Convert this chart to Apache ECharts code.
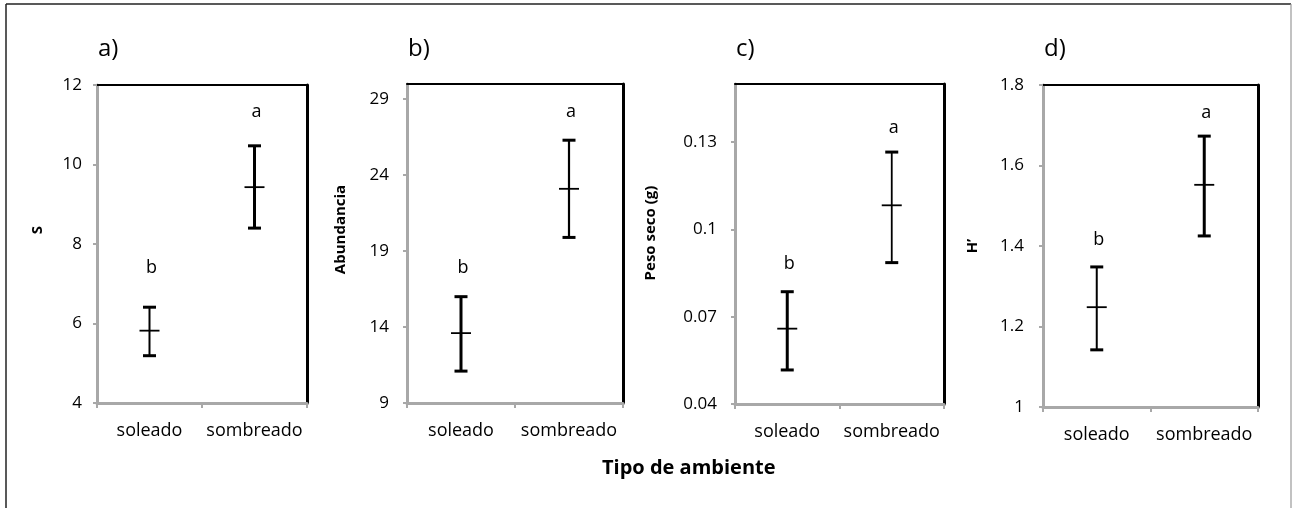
<!DOCTYPE html>
<html>
<head>
<meta charset="utf-8">
<script src="https://cdn.jsdelivr.net/npm/echarts@6/dist/echarts.min.js"></script>
<style>
  html, body { margin: 0; padding: 0; background: #fff; }
  #chart { width: 1293px; height: 508px; }
</style>
</head>
<body>
<div id="chart"></div>
<script>
// categorias (eje x)
const categories = ['soleado', 'sombreado'];

// a) riqueza S
const sLow = [5.19, 8.40];
const sMean = [5.82, 9.43];
const sHigh = [6.41, 10.47];
const sLetterY = [7.4, 11.32];

// b) abundancia
const abLow = [11.1, 19.9];
const abMean = [13.6, 23.1];
const abHigh = [16.0, 26.3];
const abLetterY = [17.9, 28.16];
const abTicks = [9, 14, 19, 24, 29];

// c) peso seco (g)
const psLow = [0.0517, 0.0886];
const psMean = [0.0659, 0.1083];
const psHigh = [0.0786, 0.1266];
const psLetterY = [0.0883, 0.1348];
const psTicks = [0.04, 0.07, 0.1, 0.13];

// d) diversidad H'
const hLow = [1.142, 1.425];
const hMean = [1.248, 1.552];
const hHigh = [1.348, 1.673];
const hLetterY = [1.415, 1.730];

// letras de significancia
const letters = ['b', 'a'];

const chart = echarts.init(document.getElementById('chart'));
const FONT = '"Open Sans", "Noto Sans", sans-serif';
const GRAY = '#a8a8a8';

const panels = [
  { tag: 'a)', name: 'S', low: sLow, mean: sMean, high: sHigh, letterY: sLetterY,
    min: 4, max: 12, interval: 2, ticks: null, labelMargin: 15, nameShift: 28,
    grid: { left: 97, top: 85, width: 210, height: 318 }, nameGap: 52, widths: [2, 3] },
  { tag: 'b)', name: 'Abundancia', low: abLow, mean: abMean, high: abHigh, letterY: abLetterY,
    min: 9, max: 30, interval: null, ticks: abTicks, labelMargin: 18, nameShift: 28,
    grid: { left: 407, top: 84, width: 216, height: 319 }, nameGap: 59, widths: [3, 2.2] },
  { tag: 'c)', name: 'Peso seco (g)', low: psLow, mean: psMean, high: psHigh, letterY: psLetterY,
    min: 0.04, max: 0.15, interval: null, ticks: psTicks, labelMargin: 18, nameShift: 22,
    grid: { left: 735, top: 84, width: 209, height: 320 }, nameGap: 77, widths: [3, 1.8] },
  { tag: 'd)', name: 'H\u2019', low: hLow, mean: hMean, high: hHigh, letterY: hLetterY,
    min: 1, max: 1.8, interval: 0.2, ticks: null, labelMargin: 19, nameShift: 0,
    grid: { left: 1043, top: 85, width: 215, height: 322 }, nameGap: 63, widths: [2, 3] }
];

function errorBarItem(widths) {
  return function (params, api) {
    const x = api.value(0);
    const lo = api.coord([x, api.value(1)]);
    const mid = api.coord([x, api.value(2)]);
    const hi = api.coord([x, api.value(3)]);
    const lw = widths[params.dataIndex];
    const st = { stroke: '#000', lineWidth: lw };
    return {
      type: 'group',
      children: [
        { type: 'line', shape: { x1: hi[0], y1: hi[1], x2: lo[0], y2: lo[1] }, style: st },
        { type: 'line', shape: { x1: hi[0] - 6.5, y1: hi[1], x2: hi[0] + 6.5, y2: hi[1] }, style: { stroke: '#000', lineWidth: 3 } },
        { type: 'line', shape: { x1: lo[0] - 6.5, y1: lo[1], x2: lo[0] + 6.5, y2: lo[1] }, style: { stroke: '#000', lineWidth: 3 } },
        { type: 'line', shape: { x1: mid[0] - 10, y1: mid[1], x2: mid[0] + 10, y2: mid[1] }, style: { stroke: '#000', lineWidth: 1.8 } }
      ]
    };
  };
}

function letterItem(params, api) {
  const p = api.coord([api.value(0), api.value(1)]);
  return {
    type: 'text',
    style: {
      x: p[0] + 2, y: p[1], text: letters[params.dataIndex],
      font: '18px ' + FONT, fill: '#000', align: 'center', verticalAlign: 'middle'
    }
  };
}

const grid = [], xAxis = [], yAxis = [], series = [], title = [];

panels.forEach((p, i) => {
  grid.push(Object.assign({ containLabel: false }, p.grid));

  // eje x inferior (gris)
  xAxis.push({
    type: 'category', gridIndex: i, data: categories, boundaryGap: true,
    axisLine: { lineStyle: { color: GRAY, width: 3 } },
    axisTick: { show: true, length: 5, lineStyle: { color: GRAY, width: 2 } },
    axisLabel: { color: '#000', fontSize: 18, fontFamily: FONT, margin: 19, interval: 0, hideOverlap: false }
  });
  // borde superior (negro)
  xAxis.push({
    type: 'category', gridIndex: i, data: categories, position: 'top',
    axisLine: { lineStyle: { color: '#000', width: 2 } },
    axisTick: { show: false }, axisLabel: { show: false }
  });

  const yLabel = { color: '#000', fontSize: 17, fontFamily: FONT, margin: p.labelMargin };
  const yTick = { show: true, length: 4, lineStyle: { color: GRAY, width: 2 } };
  if (p.ticks) {
    yLabel.customValues = p.ticks;
    yTick.customValues = p.ticks;
  }
  const y = {
    type: 'value', gridIndex: i, min: p.min, max: p.max,
    name: p.name, nameLocation: 'middle', nameRotate: 90, nameGap: p.nameGap,
    nameTextStyle: { fontSize: 15, fontWeight: 'bold', fontFamily: FONT, color: '#000',
      padding: [0, 0, 0, p.nameShift] },
    splitLine: { show: false },
    axisLine: { show: true, lineStyle: { color: GRAY, width: 3 } },
    axisTick: yTick, axisLabel: yLabel
  };
  if (p.interval) y.interval = p.interval;
  yAxis.push(y);
  // borde derecho (negro)
  yAxis.push({
    type: 'value', gridIndex: i, position: 'right', min: p.min, max: p.max,
    splitLine: { show: false },
    axisLine: { show: true, lineStyle: { color: '#000', width: 3 } },
    axisTick: { show: false }, axisLabel: { show: false }
  });

  series.push({
    type: 'custom', xAxisIndex: i * 2, yAxisIndex: i * 2,
    renderItem: errorBarItem(p.widths),
    encode: { x: 0, y: [1, 2, 3] },
    data: categories.map((c, k) => [k, p.low[k], p.mean[k], p.high[k]]),
    z: 5
  });
  series.push({
    type: 'custom', xAxisIndex: i * 2, yAxisIndex: i * 2,
    renderItem: letterItem,
    encode: { x: 0, y: 1 },
    data: categories.map((c, k) => [k, p.letterY[k]]),
    z: 5
  });

  title.push({
    text: p.tag, left: p.grid.left + 1, top: 37, padding: 0,
    textStyle: { fontSize: 24, fontWeight: 'normal', fontFamily: FONT, color: '#000' }
  });
});

title.push({
  text: 'Tipo de ambiente', left: 602, top: 458, padding: 0,
  textStyle: { fontSize: 20, fontWeight: 'bold', fontFamily: FONT, color: '#000' }
});

const option = {
  backgroundColor: '#fff',
  animation: false,
  title: title,
  grid: grid,
  xAxis: xAxis,
  yAxis: yAxis,
  series: series,
  graphic: [
    { type: 'line', shape: { x1: 6, y1: 4, x2: 6, y2: 508 }, style: { stroke: '#222', lineWidth: 1.5 } },
    { type: 'line', shape: { x1: 6, y1: 4, x2: 1291, y2: 4 }, style: { stroke: '#222', lineWidth: 1.5 } },
    { type: 'line', shape: { x1: 1291, y1: 4, x2: 1291, y2: 508 }, style: { stroke: '#999', lineWidth: 1.2 } }
  ]
};

chart.setOption(option);
</script>
</body>
</html>
